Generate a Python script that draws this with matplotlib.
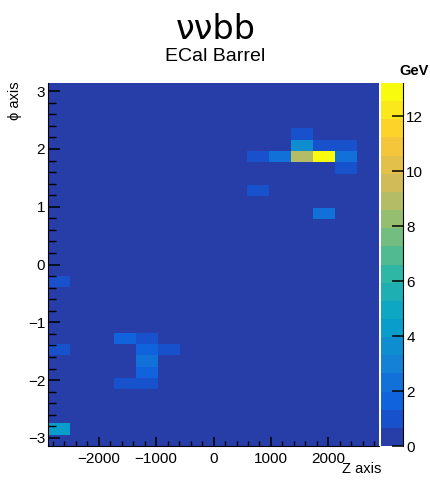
import numpy as np
import matplotlib
matplotlib.use("Agg")
import matplotlib.pyplot as plt
from matplotlib.colors import LinearSegmentedColormap, ListedColormap, BoundaryNorm

plt.rcParams['font.family'] = ['Liberation Sans', 'DejaVu Sans']

# Binning of the ECal barrel map
z_range = (-2880, 2880)
n_z_bins = 15
n_phi_bins = 32

# Energy deposits: bin index along Z, bin index along phi, energy in GeV
hit_z_bin = [11, 11, 12, 13, 9, 10, 11, 12, 13, 13, 9, 12,
             0, 3, 4, 0, 4, 5, 4, 4, 3, 4, 0]
hit_phi_bin = [27, 26, 26, 26, 25, 25, 25, 25, 25, 24, 22, 20,
               14, 9, 9, 8, 8, 8, 7, 6, 5, 5, 1]
hit_energy = [1.0, 3.6, 1.0, 1.0, 1.0, 2.3, 8.9, 13.2, 2.3, 1.0, 1.0, 2.3,
              1.0, 1.6, 1.0, 1.0, 1.8, 1.0, 2.5, 1.9, 1.0, 1.0, 4.3]

cbar_ticks = [0, 2, 4, 6, 8, 10, 12]

# ROOT kBird palette, sampled the way ROOT does for 20 contours
stops = [0.0, 0.125, 0.25, 0.375, 0.5, 0.625, 0.75, 0.875, 1.0]
red = [0.2082, 0.0592, 0.0780, 0.0232, 0.1802, 0.5301, 0.8186, 0.9956, 0.9764]
green = [0.1664, 0.3599, 0.5041, 0.6419, 0.7178, 0.7492, 0.7328, 0.7862, 0.9832]
blue = [0.5293, 0.8684, 0.8385, 0.7914, 0.6425, 0.4662, 0.3499, 0.1968, 0.0539]
bird = LinearSegmentedColormap.from_list(
    "bird", list(zip(stops, zip(red, green, blue))), N=255)
n_cont = 20
idx = [int((i + 0.99) * 255 / n_cont) for i in range(n_cont)]
cmap = ListedColormap([bird(k / 254) for k in idx])

z_edges = np.linspace(z_range[0], z_range[1], n_z_bins + 1)
phi_edges = np.linspace(-np.pi, np.pi, n_phi_bins + 1)
z_centers = 0.5 * (z_edges[:-1] + z_edges[1:])
phi_centers = 0.5 * (phi_edges[:-1] + phi_edges[1:])

hz = z_centers[hit_z_bin]
hphi = phi_centers[hit_phi_bin]
H, _, _ = np.histogram2d(hz, hphi, bins=[z_edges, phi_edges], weights=hit_energy)

zmax = max(hit_energy)
norm = BoundaryNorm(np.linspace(0, zmax, n_cont + 1), n_cont)

fig = plt.figure(figsize=(4.31, 4.80), dpi=100)
ax = fig.add_axes([0.1114, 0.0708, 0.768, 0.7562])
cax = fig.add_axes([0.885, 0.0708, 0.051, 0.7562])

mesh = ax.pcolormesh(z_edges, phi_edges, H.T, cmap=cmap, norm=norm,
                     edgecolors='none', antialiased=False)
ax.set_xlim(z_range)
ax.set_ylim(-np.pi, np.pi)

ax.set_xticks([-2000, -1000, 0, 1000, 2000])
ax.set_xticks(np.arange(-2800, 2801, 200), minor=True)
ax.set_yticks([-3, -2, -1, 0, 1, 2, 3])
ax.set_yticks(np.arange(-3.0, 3.01, 0.2), minor=True)
ax.tick_params(which='both', direction='in', top=False, right=False,
               labelsize=11, color='black')
ax.tick_params(axis='x', which='major', length=6.7, width=1.1, pad=4)
ax.tick_params(axis='x', which='minor', length=3.6, width=1)
ax.tick_params(axis='y', which='major', length=8.8, width=1.1, pad=2)
ax.tick_params(axis='y', which='minor', length=5.5, width=1)
ax.spines['top'].set_visible(False)
ax.spines['right'].set_visible(False)

cb = fig.colorbar(mesh, cax=cax, ticks=cbar_ticks)
cb.outline.set_visible(False)
cax.spines['right'].set_visible(True)
cax.tick_params(direction='in', length=8, width=1.1, labelsize=11, pad=2)
cax.minorticks_off()

fig.text(0.5, 0.919, "ννbb", fontsize=24, family='DejaVu Sans',
         ha='center', va='baseline')
fig.text(0.5, 0.873, "ECal Barrel", fontsize=14, ha='center', va='baseline')
fig.text(0.995, 0.844, "GeV", fontsize=10.5, fontweight='bold', ha='right',
         va='baseline')
fig.text(0.034, 0.83, "ϕ axis", fontsize=10.5, rotation=90, ha='center',
         va='top')
fig.text(0.884, 0.015, "Z axis", fontsize=10.5, ha='right', va='baseline')

fig.savefig("out.png", dpi=100)
